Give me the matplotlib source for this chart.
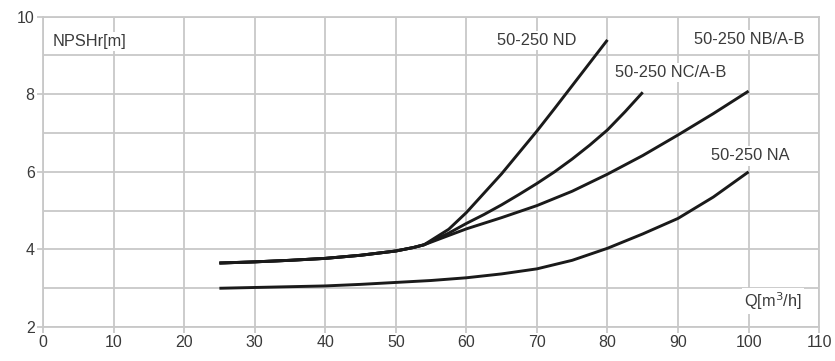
import matplotlib.pyplot as plt
from matplotlib.ticker import MultipleLocator

plt.rcParams["font.family"] = ["Liberation Sans", "DejaVu Sans"]

# flow Q [m3/h] and NPSHr [m]
q_na = [25, 30, 35, 40, 45, 50, 55, 60, 65, 70, 75, 80, 85, 90, 95, 100]
npsh_na = [3.0, 3.02, 3.04, 3.06, 3.1, 3.15, 3.2, 3.27, 3.37, 3.5, 3.72,
           4.03, 4.4, 4.8, 5.35, 6.0]

# the three upper pumps share one curve up to the fork near 54 m3/h
q_common = [25, 30, 35, 40, 45, 50, 52.5, 54]
npsh_common = [3.65, 3.68, 3.72, 3.77, 3.85, 3.96, 4.05, 4.12]

q_nd = q_common + [57.5, 60, 62.5, 65, 67.5, 70, 72.5, 75, 77.5, 80]
npsh_nd = npsh_common + [4.52, 4.95, 5.45, 5.95, 6.5, 7.05, 7.63, 8.22, 8.81, 9.4]

q_nc = q_common + [57.5, 60, 62.5, 65, 67.5, 70, 72.5, 75, 77.5, 80, 82.5, 85]
npsh_nc = npsh_common + [4.42, 4.67, 4.9, 5.15, 5.42, 5.7, 6.0, 6.33, 6.69,
                         7.08, 7.55, 8.05]

q_nb = q_common + [57.5, 60, 65, 70, 75, 80, 85, 90, 95, 100]
npsh_nb = npsh_common + [4.36, 4.53, 4.82, 5.13, 5.5, 5.94, 6.42, 6.95, 7.5, 8.08]

curves = [
    (q_nd, npsh_nd),
    (q_nc, npsh_nc),
    (q_nb, npsh_nb),
    (q_na, npsh_na),
]

labels = [
    ("50-250 ND", 64.3, 9.38),
    ("50-250 NC/A-B", 81.0, 8.56),
    ("50-250 NB/A-B", 92.2, 9.4),
    ("50-250 NA", 94.7, 6.41),
    ("NPSHr[m]", 1.3, 9.36),
    ("Q[m$^3$/h]", 99.4, 2.66),
]

grid_c = "#c8c8c8"
text_c = "#3a3a3a"

fig = plt.figure(figsize=(8.35, 3.61), dpi=100)
ax = fig.add_axes([0.0515, 0.094, 0.9295, 0.86])

for q, h in curves:
    ax.plot(q, h, color="#1a1a1a", lw=2.1, solid_capstyle="butt",
            solid_joinstyle="round", zorder=3)

ax.set_xlim(0, 110)
ax.set_ylim(2, 10)
ax.xaxis.set_major_locator(MultipleLocator(10))
ax.yaxis.set_major_locator(MultipleLocator(2))
ax.yaxis.set_minor_locator(MultipleLocator(1))
ax.grid(True, which="both", color=grid_c, lw=1.3)
ax.set_axisbelow(True)
for s in ax.spines.values():
    s.set_color(grid_c)
    s.set_linewidth(1.3)
ax.tick_params(which="major", length=4, width=1.3, color=grid_c,
               labelsize=11.5, labelcolor=text_c, pad=2)
ax.tick_params(which="minor", length=0)

for txt, x, y in labels:
    ax.text(x, y, txt, fontsize=11.8, color=text_c, va="center", ha="left",
            zorder=4,
            bbox=dict(facecolor="white", edgecolor="none", pad=1.5))

fig.savefig("out.png", dpi=100)
